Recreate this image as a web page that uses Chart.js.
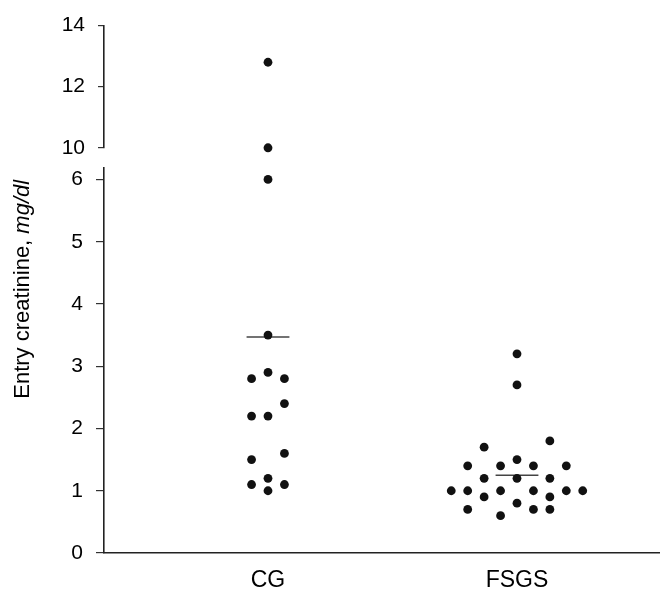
<!DOCTYPE html>
<html>
<head>
<meta charset="utf-8">
<script src="https://cdn.jsdelivr.net/npm/chart.js@4.4.1/dist/chart.umd.min.js"></script>
<style>
html, body { margin: 0; padding: 0; background: #fff; }
#wrap { width: 660px; height: 591px; }
</style>
</head>
<body>
<div id="wrap"><canvas id="c" width="660" height="591"></canvas></div>
<script>
// ---- data ----
const categories = ['CG', 'FSGS'];
const categoryPositions = [1, 2];
const cgValues   = [12.8, 10.0, 6.0, 3.5, 2.9, 2.8, 2.8, 2.4, 2.2, 2.2, 1.6, 1.5, 1.2, 1.1, 1.1, 1.0];
const cgColumns  = [0, 0, 0, 0, 0, -1, 1, 1, -1, 0, 1, -1, 0, -1, 1, 0];
const fsgsValues = [3.2, 2.7, 1.8, 1.7, 1.5, 1.4, 1.4, 1.4, 1.4, 1.2, 1.2, 1.2, 1.0, 1.0, 1.0, 1.0, 1.0, 1.0, 0.9, 0.9, 0.8, 0.7, 0.7, 0.7, 0.6];
const fsgsColumns = [0, 0, 2, -2, 0, -3, -1, 1, 3, -2, 0, 2, -4, -3, -1, 1, 3, 4, -2, 2, 0, -3, 1, 2, -1];
const groupMeans = [3.47, 1.25];
const lowerTicks = [0, 1, 2, 3, 4, 5, 6];
const lowerTickLabels = ['0', '1', '2', '3', '4', '5', '6'];
const upperTicks = [10, 11, 12, 13, 14];
const upperTickLabels = ['10', '', '12', '', '14'];
const yTitleMain = 'Entry creatinine, ';
const yTitleUnit = 'mg/dl';
const lowerMax = 6.19;
const upperMin = 10, upperMax = 14;

// ---- layout constants ----
const COL = 0.066;          // column spacing of the dot plot (x units)
const MEAN_HALF = 0.086;    // half length of mean bars (x units)
const FONT = '"Liberation Sans", Arial, Helvetica, sans-serif';
const INK = '#000';

function points(values, cols, catIdx, upper) {
  const out = [];
  values.forEach((v, i) => {
    if ((v >= upperMin) === upper) out.push({ x: categoryPositions[catIdx] + cols[i] * COL, y: v });
  });
  return out;
}
const lowerPts = points(cgValues, cgColumns, 0, false).concat(points(fsgsValues, fsgsColumns, 1, false));
const upperPts = points(cgValues, cgColumns, 0, true).concat(points(fsgsValues, fsgsColumns, 1, true));

const dotStyle = { pointRadius: 4.4, pointHoverRadius: 4.4, pointBackgroundColor: '#111', pointBorderWidth: 0, showLine: false, clip: false };

const datasets = [
  Object.assign({ label: 'dots', data: lowerPts, yAxisID: 'y' }, dotStyle),
  Object.assign({ label: 'dotsTop', data: upperPts, yAxisID: 'yTop' }, dotStyle)
];
groupMeans.forEach((m, i) => {
  datasets.push({
    label: 'mean ' + categories[i],
    data: [{ x: categoryPositions[i] - MEAN_HALF, y: m }, { x: categoryPositions[i] + MEAN_HALF, y: m }],
    yAxisID: 'y', showLine: true, pointRadius: 0, borderColor: '#444', borderWidth: 1.6
  });
});

const titlePlugin = {
  id: 'ytitle',
  afterDraw(chart) {
    const { ctx, chartArea } = chart;
    ctx.save();
    ctx.translate(29, (chartArea.top + chartArea.bottom) / 2);
    ctx.rotate(-Math.PI / 2);
    ctx.fillStyle = INK;
    ctx.textBaseline = 'alphabetic';
    ctx.textAlign = 'left';
    const f1 = '22px ' + FONT, f2 = 'italic 22px ' + FONT;
    ctx.font = f1; const w1 = ctx.measureText(yTitleMain).width;
    ctx.font = f2; const w2 = ctx.measureText(yTitleUnit).width;
    const x0 = -(w1 + w2) / 2;
    ctx.font = f1; ctx.fillText(yTitleMain, x0, 0);
    ctx.font = f2; ctx.fillText(yTitleUnit, x0 + w1, 0);
    ctx.restore();
  }
};

const yCommon = {
  type: 'linear', position: 'left', stack: 'ys',
  afterFit: s => { s.width = 104; },
  border: { display: true, color: '#222', width: 1.6 },
  ticks: { padding: 13, color: INK, font: { family: FONT, size: 21 } }
};

new Chart(document.getElementById('c'), {
  type: 'scatter',
  data: { datasets },
  plugins: [titlePlugin],
  options: {
    responsive: false,
    animation: false,
    layout: { autoPadding: false, padding: { top: 22, left: 0, right: 0, bottom: 0 } },
    plugins: { legend: { display: false }, tooltip: { enabled: false }, title: { display: false } },
    scales: {
      x: {
        type: 'linear', min: 0.3414, max: 2.5743,
        afterBuildTicks: s => { s.ticks = categoryPositions.map(v => ({ value: v })); },
        afterFit: s => { s.height = 38; },
        ticks: { padding: 14, color: INK, font: { family: FONT, size: 23 },
          callback: v => { const i = categoryPositions.indexOf(v); return i >= 0 ? categories[i] : ''; } },
        grid: { display: true, drawOnChartArea: false, drawTicks: false },
        border: { display: true, color: '#222', width: 1.6 }
      },
      y: Object.assign({}, yCommon, {
        stackWeight: 388, min: 0, max: lowerMax,
        afterBuildTicks: s => { s.ticks = lowerTicks.map(v => ({ value: v })); },
        ticks: Object.assign({}, yCommon.ticks, { callback: v => { const i = lowerTicks.indexOf(v); return i >= 0 ? lowerTickLabels[i] : ''; } }),
        grid: { drawOnChartArea: false, drawTicks: true, tickLength: 8, color: '#333', lineWidth: 1.2 }
      }),
      yGap: {
        type: 'linear', position: 'left', stack: 'ys', stackWeight: 20, min: 0, max: 1,
        afterFit: s => { s.width = 104; },
        grid: { display: false }, border: { display: false }, ticks: { display: false }
      },
      yTop: Object.assign({}, yCommon, {
        stackWeight: 123, min: upperMin, max: upperMax,
        afterBuildTicks: s => { s.ticks = upperTicks.map(v => ({ value: v })); },
        ticks: Object.assign({}, yCommon.ticks, { callback: v => { const i = upperTicks.indexOf(v); return i >= 0 ? upperTickLabels[i] : ''; } }),
        grid: { drawOnChartArea: false, drawTicks: true, tickLength: 6, color: '#333', lineWidth: 1.2 }
      })
    }
  }
});
</script>
</body>
</html>
